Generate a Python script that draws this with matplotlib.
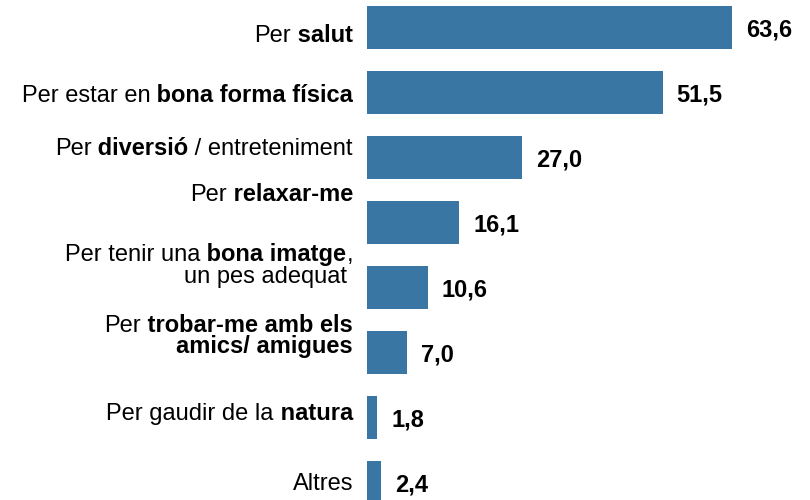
import matplotlib as mpl
mpl.use('Agg')
from matplotlib import pyplot as plt

mpl.rcParams['font.family'] = ['Liberation Sans', 'DejaVu Sans']

bar_color = '#3a76a3'
text_color = (0, 0, 0)

# each category label: lines -> segments (text, bold?)
labels = [
    [[('Per', False), (' salut', True)]],
    [[('Per estar en', False), (' bona forma física', True)]],
    [[('Per', False), (' diversió', True), (' / entreteniment', False)]],
    [[('Per', False), (' relaxar-me', True)]],
    [[('Per tenir una', False), (' bona imatge', True), (',', False)],
     [('un pes adequat', False)]],
    [[('Per', False), (' trobar-me amb els', True)],
     [('amics/ amigues', True)]],
    [[('Per gaudir de la', False), (' natura', True)]],
    [[('Altres', False)]],
]
values = [63.6, 51.5, 27.0, 16.1, 10.6, 7.0, 1.8, 2.4]

# baseline offset of each label line from bar centre (px, down is positive)
label_dy = [[14], [9], [-2.5], [-22], [-26.5, -5], [-21, 0.5], [2], [7.5]]
# extra shift to the left per line (trailing space in the original)
label_dx = [[0], [0], [0], [0], [0, 6], [0, 0], [0], [0]]

W, H = 810, 500
fig = plt.figure(figsize=(W / 100, H / 100), dpi=100)
ax = fig.add_axes([367 / W, 0, 1 - 367 / W, 1])

pitch = 65
px_per_unit = 5.74
ax.set_xlim(0, (W - 367) / px_per_unit)
ax.set_ylim((H - 28) / pitch, -28 / pitch)
ax.axis('off')

pos = list(range(len(values)))
ax.barh(pos, values, height=43 / pitch, color=bar_color)

fs = 17
for i, v in zip(pos, values):
    ax.annotate(f'{v:.1f}'.replace('.', ','), xy=(v, i),
                xytext=(14, -9), textcoords='offset pixels',
                ha='left', va='baseline', fontsize=fs,
                fontweight='bold', color=text_color)

for i, lines in enumerate(labels):
    for lines_i, segs in enumerate(lines):
        dy = label_dy[i][lines_i]
        dx = label_dx[i][lines_i]
        prev = None
        for text, bold in reversed(segs):
            if prev is None:
                xy, coords, off = (0, i), ('axes fraction', 'data'), (-14 - dx, -dy)
            else:
                xy, coords, off = (0, i), (prev, 'data'), (0, -dy)
            prev = ax.annotate(text, xy=xy, xycoords=coords, xytext=off,
                               textcoords='offset pixels', ha='right',
                               va='baseline', fontsize=fs, color=text_color,
                               fontweight='bold' if bold else 'normal',
                               annotation_clip=False)

fig.savefig('out.png', dpi=100)
